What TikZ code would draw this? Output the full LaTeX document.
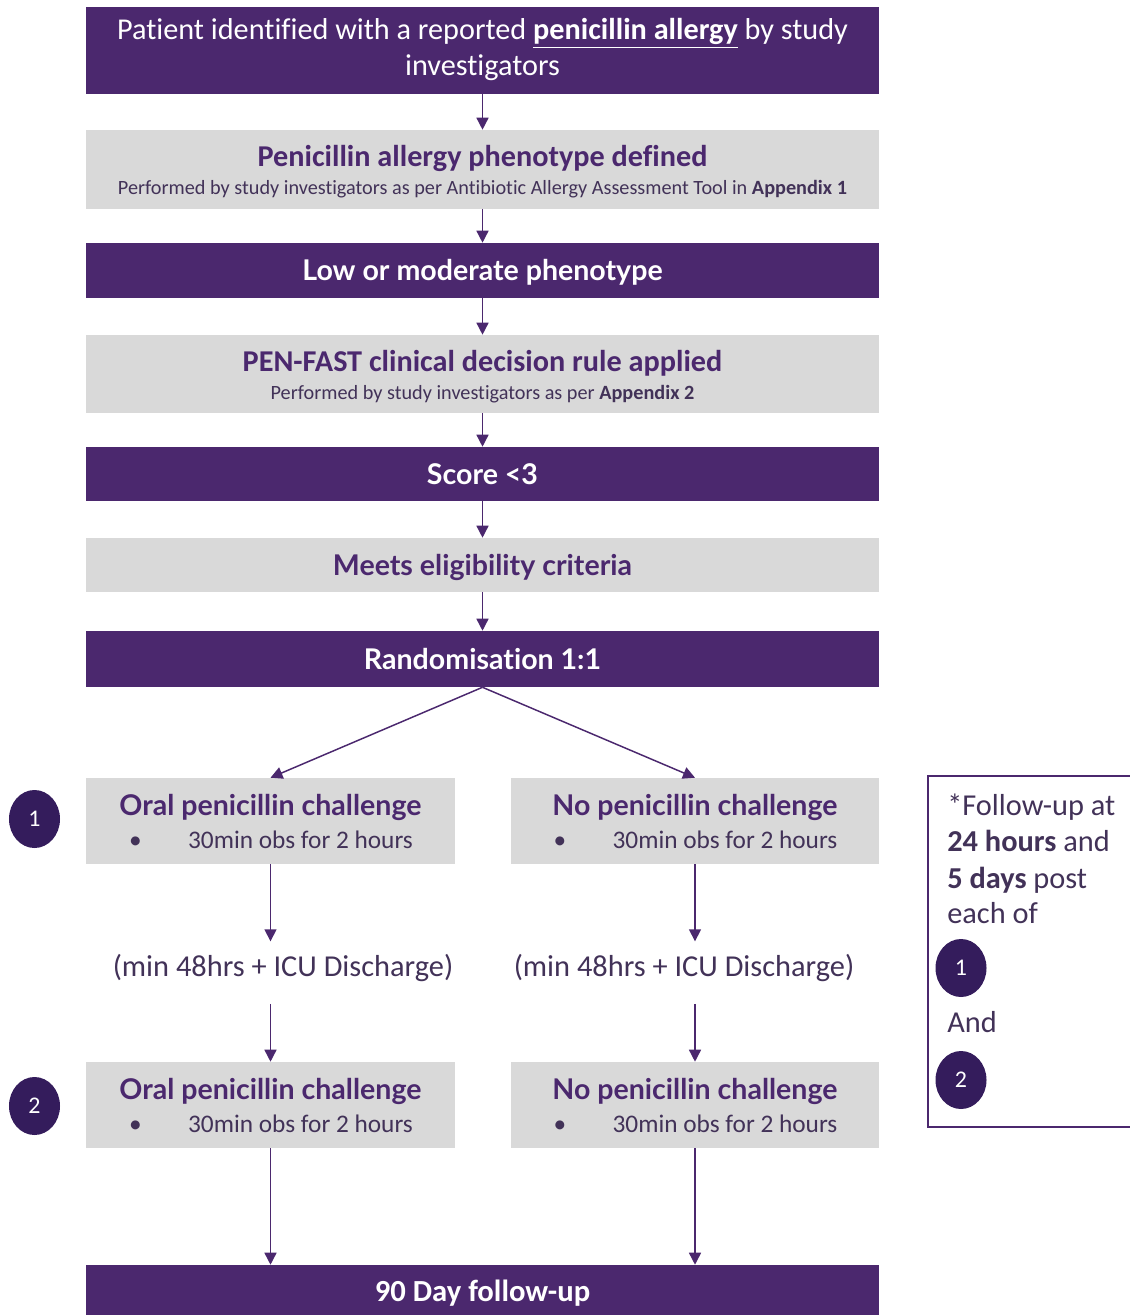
\documentclass[tikz,border=0pt]{standalone}
\usepackage{fontspec}
\setmainfont{Carlito}[Ligatures=NoCommon]
\newfontfamily\gillfont{Lato}[Ligatures=NoCommon]
\usetikzlibrary{arrows.meta, positioning, shapes.geometric}
\definecolor{penpurple}{RGB}{75,40,110}
\definecolor{pengrey}{RGB}{217,217,217}
\definecolor{pennavy}{RGB}{52,28,92}
\definecolor{pentext}{RGB}{66,50,88}

\begin{document}
\begin{tikzpicture}[x=0.025cm, y=-0.025cm,
    darkbox/.style={fill=penpurple, inner sep=0pt, minimum width=19.825cm},
    greybox/.style={fill=pengrey, inner sep=0pt, minimum width=19.825cm},
    halfbox/.style={fill=pengrey, inner sep=0pt, minimum width=9.22cm, minimum height=2.15cm},
    txt/.style={inner sep=0pt, text height=1.5ex, text depth=0.25ex, yshift=-0.14cm},
    wtitle/.style={txt, text=white, font=\fontsize{21.5}{25.5}\selectfont},
    whead/.style={txt, text=white, font=\gillfont\fontsize{20.3}{24}\selectfont\bfseries},
    ghead/.style={txt, text=penpurple, font=\fontsize{21.5}{25.5}\selectfont\bfseries},
    gillhead/.style={txt, text=penpurple, font=\gillfont\fontsize{20.3}{24}\selectfont\bfseries},
    gsub/.style={txt, text=pentext, yshift=0.05cm, font=\fontsize{14.4}{17}\selectfont},
    bullet/.style={txt, text=pentext, font=\fontsize{18}{22}\selectfont},
    plain/.style={txt, text=pentext, font=\fontsize{21.6}{25.5}\selectfont},
    numcirc/.style={ellipse, fill=pennavy, text=white, inner sep=0pt, minimum width=1.275cm, minimum height=1.45cm, font=\fontsize{17}{20}\selectfont},
    flow/.style={-{Triangle[length=0.3cm, width=0.3cm]}, penpurple, line width=1.05pt}]
  \useasboundingbox (0,0) rectangle (1130,1315);

  % main column
  \node[darkbox, minimum height=2.175cm] (ident) at (482.5,50.5) {};
  \node[wtitle] (ident-a) at (482.5,30) {Patient identified with a reported \textbf{\underline{penicillin allergy}} by study};
  \node[wtitle] (ident-b) at (482.5,66) {investigators};

  \node[greybox, minimum height=1.975cm] (pheno) at (482.5,169.5) {};
  \node[ghead] (pheno-a) at (482.5,157) {Penicillin allergy phenotype defined};
  \node[gsub] (pheno-b) at (482.5,187) {Performed by study investigators as per Antibiotic Allergy Assessment Tool in \textbf{Appendix 1}};

  \node[darkbox, minimum height=1.375cm] (lowmod) at (482.5,270.5) {};
  \node[whead] (lowmod-a) at (482.5,271) {Low or moderate phenotype};

  \node[greybox, minimum height=1.95cm] (penfast) at (482.5,374) {};
  \node[ghead] (penfast-a) at (482.5,362) {PEN-FAST clinical decision rule applied};
  \node[gsub] (penfast-b) at (482.5,392) {Performed by study investigators as per \textbf{Appendix 2}};

  \node[darkbox, minimum height=1.35cm] (score) at (482.5,474) {};
  \node[whead] (score-a) at (482.5,475) {Score <3};

  \node[greybox, minimum height=1.35cm] (elig) at (482.5,565) {};
  \node[gillhead] (elig-a) at (482.5,566) {Meets eligibility criteria};

  \node[darkbox, minimum height=1.4cm] (rand) at (482.5,659) {};
  \node[whead] (rand-a) at (482.5,660) {Randomisation 1:1};

  % two arms
  \node[halfbox] (oral1) at (270.5,821) {};
  \node[gillhead] (oral1-a) at (270.5,806) {Oral penicillin challenge};
  \node[bullet] (oral1-b) at (271,839) {\textbullet\hspace{33pt}30min obs for 2 hours};
  \node[halfbox] (none1) at (695,821) {};
  \node[gillhead] (none1-a) at (695,806) {No penicillin challenge};
  \node[bullet] (none1-b) at (695.5,839) {\textbullet\hspace{33pt}30min obs for 2 hours};

  \node[plain, minimum height=1.55cm] (wait1) at (283,967) {(min 48hrs + ICU Discharge)};
  \node[plain, minimum height=1.55cm] (wait2) at (684,967) {(min 48hrs + ICU Discharge)};

  \node[halfbox] (oral2) at (270.5,1105) {};
  \node[gillhead] (oral2-a) at (270.5,1090) {Oral penicillin challenge};
  \node[bullet] (oral2-b) at (271,1123) {\textbullet\hspace{33pt}30min obs for 2 hours};
  \node[halfbox] (none2) at (695,1105) {};
  \node[gillhead] (none2-a) at (695,1090) {No penicillin challenge};
  \node[bullet] (none2-b) at (695.5,1123) {\textbullet\hspace{33pt}30min obs for 2 hours};

  \node[darkbox, minimum height=1.25cm] (fu90) at (482.5,1290) {};
  \node[wtitle, font=\fontsize{21.8}{25.5}\selectfont\bfseries] (fu90-a) at (482.5,1292) {90 Day follow-up};

  \node[numcirc] (step1) at (34.5,819) {1};
  \node[numcirc] (step2) at (34.5,1106) {2};

  % follow-up note
  \node[draw=penpurple, line width=1pt, inner sep=0pt, minimum width=5.3cm, minimum height=8.775cm] (note) at (1034,951.5) {};
  \node[plain, anchor=west] (note-a) at (947,806) {*Follow-up at};
  \node[plain, anchor=west] (note-b) at (947,842) {\textbf{24 hours} and};
  \node[plain, anchor=west] (note-c) at (947,879) {\textbf{5 days} post};
  \node[plain, anchor=west] (note-d) at (947,914) {each of};
  \node[numcirc] (note-1) at (961,968) {1};
  \node[plain, anchor=west] (note-e) at (947,1023) {And};
  \node[numcirc] (note-2) at (961,1080) {2};

  % connectors
  \draw[flow] (ident) -- (pheno);
  \draw[flow] (pheno) -- (lowmod);
  \draw[flow] (lowmod) -- (penfast);
  \draw[flow] (penfast) -- (score);
  \draw[flow] (score) -- (elig);
  \draw[flow] (elig) -- (rand);
  \draw[flow] (rand.south) -- (oral1.north);
  \draw[flow] (rand.south) -- (none1.north);
  \draw[flow] (oral1.south) -- (oral1.south |- wait1.north);
  \draw[flow] (none1.south) -- (none1.south |- wait2.north);
  \draw[flow] (oral1.south |- wait1.south) -- (oral2.north);
  \draw[flow] (none1.south |- wait2.south) -- (none2.north);
  \draw[flow] (oral2.south) -- (oral2.south |- fu90.north);
  \draw[flow] (none2.south) -- (none2.south |- fu90.north);
\end{tikzpicture}
\end{document}
